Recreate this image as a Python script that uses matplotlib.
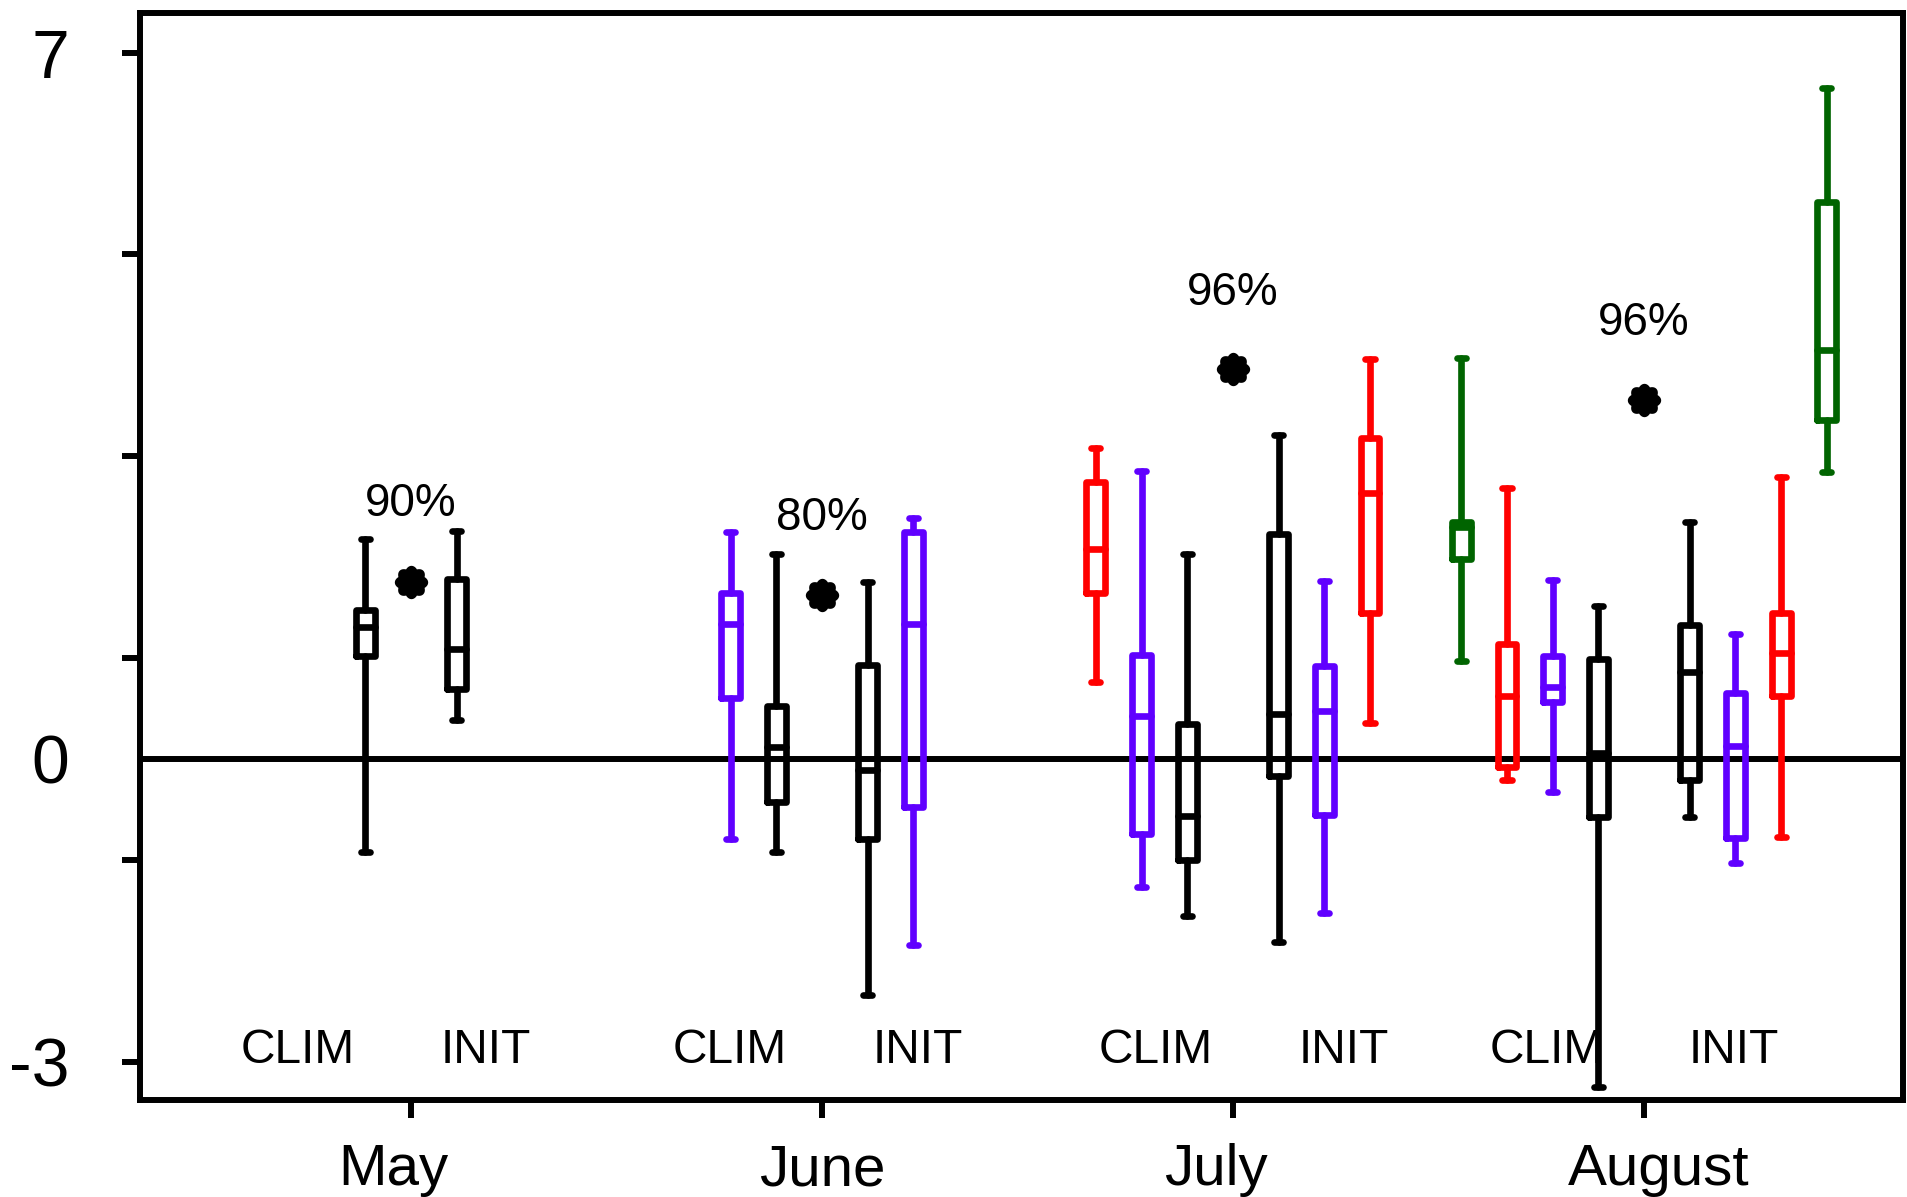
import matplotlib
matplotlib.use("Agg")
import numpy as np
import matplotlib.pyplot as plt
import matplotlib.transforms as mtransforms
from matplotlib.path import Path

plt.rcParams['font.family'] = ['Liberation Sans', 'DejaVu Sans']

months = ['May', 'June', 'July', 'August']
percent_labels = ['90%', '80%', '96%', '96%']
percent_y = [2.53, 2.39, 4.62, 4.32]
star_y = [1.75, 1.62, 3.86, 3.56]

# boxes per month, left to right
box_month = [0, 0,
             1, 1, 1, 1,
             2, 2, 2, 2, 2, 2,
             3, 3, 3, 3, 3, 3, 3, 3]
box_color = ['black', 'black',
             'purple', 'black', 'black', 'purple',
             'red', 'purple', 'black', 'black', 'purple', 'red',
             'green', 'red', 'purple', 'black', 'black', 'purple', 'red', 'green']
whis_lo = [-0.92, 0.39,
           -0.79, -0.92, -2.34, -1.84,
           0.76, -1.27, -1.56, -1.81, -1.53, 0.36,
           0.97, -0.21, -0.33, -3.25, -0.58, -1.03, -0.77, 2.84]
q1 = [1.02, 0.69,
      0.60, -0.43, -0.79, -0.48,
      1.64, -0.74, -1.00, -0.17, -0.56, 1.45,
      1.98, -0.08, 0.56, -0.58, -0.21, -0.78, 0.62, 3.36]
med = [1.31, 1.09,
       1.34, 0.12, -0.11, 1.34,
       2.08, 0.43, -0.57, 0.45, 0.48, 2.64,
       2.30, 0.62, 0.71, 0.06, 0.86, 0.13, 1.05, 4.05]
q3 = [1.48, 1.78,
      1.64, 0.52, 0.93, 2.25,
      2.74, 1.03, 0.35, 2.23, 0.92, 3.18,
      2.35, 1.14, 1.02, 0.99, 1.33, 0.65, 1.45, 5.52]
whis_hi = [2.18, 2.26,
           2.25, 2.03, 1.75, 2.39,
           3.08, 2.85, 2.03, 3.21, 1.76, 3.96,
           3.97, 2.68, 1.77, 1.52, 2.35, 1.24, 2.79, 6.65]

group_labels = ['CLIM', 'INIT']
clim_x = [0.725, 1.775, 2.811, 3.762]
init_x = [1.183, 2.234, 3.269, 4.219]
group_y = -2.89

colors = {'black': '#000000', 'purple': '#6000FF', 'red': '#FF0000', 'green': '#006400'}

fig = plt.figure(figsize=(19.07, 11.97), dpi=100)
ax = fig.add_axes([0.0734, 0.081, 0.9245, 0.908])

ax.axhline(0, color='black', lw=4.3, zorder=1)

# position each box around its month, leaving the middle slot empty
step = 1 / 9
month_x = [i + 1 for i in range(len(months))]
for m in range(len(months)):
    idx = [i for i, bm in enumerate(box_month) if bm == m]
    half = len(idx) // 2
    slots = list(range(-half, 0)) + list(range(1, half + 1))
    for i, s in zip(idx, slots):
        c = colors[box_color[i]]
        stat = dict(med=med[i], q1=q1[i], q3=q3[i], whislo=whis_lo[i],
                    whishi=whis_hi[i], fliers=[])
        lp = dict(color=c, lw=4.8, solid_capstyle='round', solid_joinstyle='round')
        ax.bxp([stat], positions=[month_x[m] + s * step], widths=0.046,
               capwidths=0.022, showfliers=False, manage_ticks=False,
               boxprops=lp, whiskerprops=lp, capprops=lp, medianprops=lp,
               zorder=3)

# significance markers: small scalloped (8-lobed) blob
t = np.linspace(0, 2 * np.pi, 321)
r = 0.85 + 0.15 * np.abs(np.cos(4 * t))
flower = Path(np.column_stack([r * np.cos(t), r * np.sin(t)]), closed=True)
ax.scatter(month_x, star_y, marker=flower, s=24 ** 2, color='black',
           linewidths=0, zorder=4)
for x, y, txt in zip(month_x, percent_y, percent_labels):
    ax.text(x, y, txt, ha='center', va='center', fontsize=33)

for x in clim_x:
    ax.text(x, group_y, group_labels[0], ha='center', va='center', fontsize=34.5)
for x in init_x:
    ax.text(x, group_y, group_labels[1], ha='center', va='center', fontsize=34.5)

ax.set_xlim(0.341, 4.63)
ax.set_ylim(-3.38, 7.39)

ax.set_yticks([7, 0, -3])
ax.set_yticklabels(['7', '0', '-3'])
ax.set_yticks([5, 3, 1, -1], minor=True)
ax.yaxis.get_major_ticks()[1].tick1line.set_visible(False)
ax.tick_params(axis='y', which='both', length=13, width=4.3, labelsize=49, pad=38)

ax.set_xticks(month_x)
ax.set_xticklabels(months)
ax.tick_params(axis='x', length=13, width=4.3, labelsize=42, pad=18)
shift_px = [-17, 0, -17, 15]
for lab, dx in zip(ax.get_xticklabels(), shift_px):
    lab.set_transform(lab.get_transform() + mtransforms.ScaledTranslation(dx / 100, 0, fig.dpi_scale_trans))

for sp in ax.spines.values():
    sp.set_linewidth(4.3)

fig.savefig('out.png', dpi=100)
